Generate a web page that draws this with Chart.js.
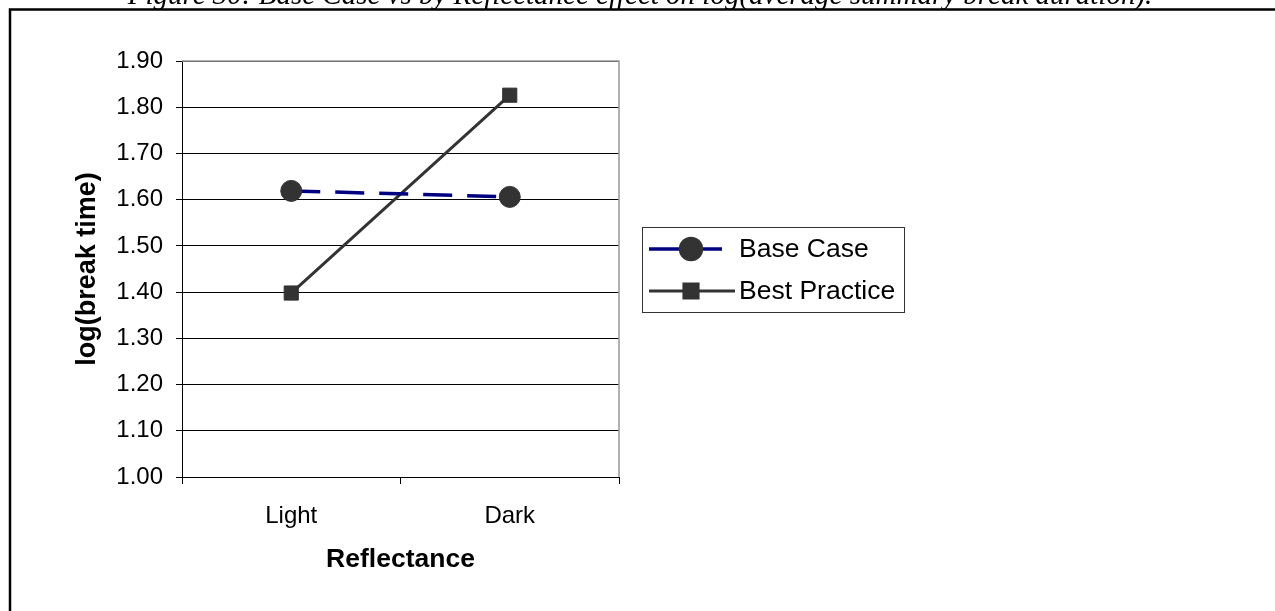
<!DOCTYPE html>
<html>
<head>
<meta charset="utf-8">
<title>Base Case vs Best Practice by Reflectance</title>
<script src="https://cdn.jsdelivr.net/npm/chart.js@4.4.0/dist/chart.umd.min.js"></script>
<style>
    html, body { margin: 0; padding: 0; background: #fff; }
    canvas { display: block; }
</style>
</head>
<body>
<canvas id="chart" width="1275" height="611"></canvas>
<script>
// chart values
var captionText = 'Figure 30: Base Case vs by Reflectance effect on log(average summary break duration).';
var categories = ['Light', 'Dark'];
var seriesNames = ['Base Case', 'Best Practice'];
var baseCase = [1.619, 1.606];
var bestPractice = [1.398, 1.826];
var yMin = 1.0;
var yMax = 1.9;
var yStep = 0.1;
var xTitle = 'Reflectance';
var yTitle = 'log(break time)';

var SANS = '"Liberation Sans", Arial, Helvetica, sans-serif';
Chart.defaults.font.family = SANS;
Chart.defaults.color = '#000';

var pagePlugin = {
    id: 'page',
    beforeDraw: function(chart) {
        var ctx = chart.ctx;
        ctx.save();
        ctx.fillStyle = '#fff';
        ctx.fillRect(0, 0, chart.width, chart.height);

        // caption, cut off by the top of the page
        ctx.fillStyle = '#000';
        ctx.font = 'italic 29px "Liberation Serif", "Times New Roman", serif';
        ctx.textAlign = 'center';
        ctx.textBaseline = 'alphabetic';
        ctx.fillText(captionText, 640, 4);

        // outer frame (top and left)
        ctx.strokeStyle = '#000';
        ctx.lineWidth = 2.5;
        ctx.beginPath();
        ctx.moveTo(10, chart.height);
        ctx.lineTo(10, 9.5);
        ctx.lineTo(chart.width, 9.5);
        ctx.stroke();
        ctx.restore();
    },
    beforeDatasetsDraw: function(chart) {
        var a = chart.chartArea;
        var ctx = chart.ctx;
        ctx.save();
        ctx.strokeStyle = '#999';
        ctx.lineWidth = 1.5;
        ctx.beginPath();
        ctx.moveTo(a.left, a.top);
        ctx.lineTo(a.right, a.top);
        ctx.lineTo(a.right, a.bottom);
        ctx.stroke();
        ctx.restore();
    },
    afterDraw: function(chart) {
        var ctx = chart.ctx;
        ctx.save();
        ctx.fillStyle = '#fff';
        ctx.fillRect(642.5, 227.5, 262, 85);
        ctx.strokeStyle = '#333';
        ctx.lineWidth = 1;
        ctx.strokeRect(642.5, 227.5, 262, 85);

        var rows = [249, 291];
        var lineEnds = [722, 735];
        for (var i = 0; i < chart.data.datasets.length; i++) {
            var ds = chart.data.datasets[i];
            var y = rows[i];
            ctx.strokeStyle = ds.borderColor;
            ctx.lineWidth = ds.borderWidth;
            ctx.setLineDash([]);
            ctx.beginPath();
            ctx.moveTo(649, y);
            ctx.lineTo(lineEnds[i], y);
            ctx.stroke();

            ctx.fillStyle = ds.pointBackgroundColor;
            ctx.strokeStyle = ds.pointBorderColor;
            Chart.helpers.drawPoint(ctx, {
                pointStyle: ds.pointStyle,
                radius: ds.pointRadius,
                borderWidth: 1,
                rotation: 0
            }, 691, y);

            ctx.fillStyle = '#000';
            ctx.font = '26.5px ' + SANS;
            ctx.textAlign = 'left';
            ctx.textBaseline = 'middle';
            ctx.fillText(ds.label, 739, y + 1);
        }
        ctx.restore();
    }
};

new Chart(document.getElementById('chart'), {
    type: 'line',
    data: {
        labels: categories,
        datasets: [{
            label: seriesNames[0],
            data: baseCase,
            borderColor: '#000080',
            borderWidth: 3.5,
            borderDash: [29, 15],
            pointStyle: 'circle',
            pointRadius: 10.5,
            pointBackgroundColor: '#333',
            pointBorderColor: '#333',
            pointBorderWidth: 1,
            tension: 0,
            order: 0
        }, {
            label: seriesNames[1],
            data: bestPractice,
            borderColor: '#333',
            borderWidth: 3,
            pointStyle: 'rect',
            pointRadius: 10,
            pointBackgroundColor: '#333',
            pointBorderColor: '#333',
            pointBorderWidth: 1,
            tension: 0,
            order: 1
        }]
    },
    options: {
        responsive: false,
        animation: false,
        events: [],
        layout: { padding: { left: 71, top: 61, right: 656, bottom: 35 } },
        plugins: {
            legend: { display: false },
            tooltip: { enabled: false }
        },
        scales: {
            x: {
                offset: true,
                afterFit: function(s) { s.height = 99; },
                border: { color: '#000', width: 1 },
                grid: { offset: true, drawOnChartArea: false, color: '#000', tickLength: 7 },
                ticks: { padding: 18, color: '#000', font: { size: 24 } },
                title: { display: true, text: xTitle, color: '#000', padding: 0,
                         font: { size: 26.5, weight: 'bold' } }
            },
            y: {
                min: yMin,
                max: yMax,
                afterFit: function(s) { s.width = 111; },
                border: { color: '#000', width: 1 },
                grid: { color: '#000', lineWidth: 1, tickLength: 6 },
                ticks: {
                    stepSize: yStep,
                    padding: 13,
                    color: '#000',
                    font: { size: 24 },
                    callback: function(v) { return v.toFixed(2); }
                },
                title: { display: true, text: yTitle, color: '#000', padding: 0,
                         font: { size: 27, weight: 'bold' } }
            }
        }
    },
    plugins: [pagePlugin]
});
</script>
</body>
</html>
